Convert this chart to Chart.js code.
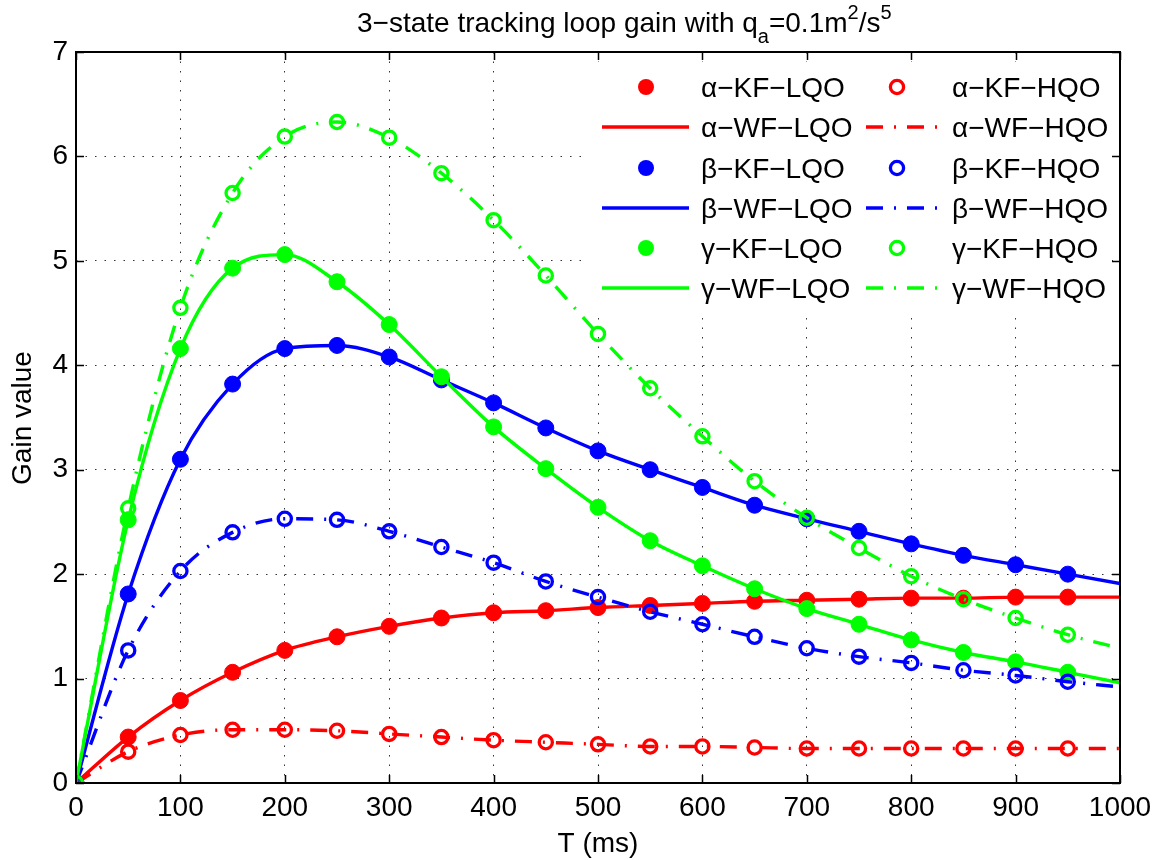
<!DOCTYPE html>
<html>
<head>
<meta charset="utf-8">
<title>Tracking loop gain</title>
<script src="https://cdn.jsdelivr.net/npm/chart.js@4.4.1/dist/chart.umd.min.js"></script>
<style>
  html, body { margin: 0; padding: 0; background: #fff; }
  #gainChart { display: block; }
</style>
</head>
<body>
<canvas id="gainChart" width="1157" height="860"></canvas>
<script>
// ---- data -------------------------------------------------------------

// KF gains are sampled every 50 ms, WF curves run to the end of the axis
const kfTimes = [0, 50, 100, 150, 200, 250, 300, 350, 400, 450, 500, 550, 600, 650, 700, 750, 800, 850, 900, 950];
const wfTimes = [0, 50, 100, 150, 200, 250, 300, 350, 400, 450, 500, 550, 600, 650, 700, 750, 800, 850, 900, 950, 1000];

const xTicks = [0, 100, 200, 300, 400, 500, 600, 700, 800, 900, 1000];
const yTicks = [0, 1, 2, 3, 4, 5, 6, 7];

// alpha
const alphaKfLqo = [0, 0.44, 0.79, 1.06, 1.27, 1.40, 1.50, 1.58, 1.63, 1.65, 1.68, 1.70, 1.72, 1.74, 1.75, 1.76, 1.77, 1.77, 1.78, 1.78];
const alphaWfLqo = [0, 0.44, 0.79, 1.06, 1.27, 1.40, 1.50, 1.58, 1.63, 1.65, 1.68, 1.70, 1.72, 1.74, 1.75, 1.76, 1.77, 1.77, 1.78, 1.78, 1.78];
const alphaKfHqo = [0, 0.30, 0.46, 0.51, 0.51, 0.50, 0.47, 0.44, 0.41, 0.39, 0.37, 0.35, 0.35, 0.34, 0.33, 0.33, 0.33, 0.33, 0.33, 0.33];
const alphaWfHqo = [0, 0.30, 0.46, 0.51, 0.51, 0.50, 0.47, 0.44, 0.41, 0.39, 0.37, 0.35, 0.35, 0.34, 0.33, 0.33, 0.33, 0.33, 0.33, 0.33, 0.33];

// beta
const betaKfLqo = [0, 1.81, 3.10, 3.82, 4.16, 4.19, 4.08, 3.86, 3.64, 3.40, 3.18, 3.00, 2.83, 2.66, 2.53, 2.41, 2.29, 2.18, 2.09, 2.00];
const betaWfLqo = [0, 1.81, 3.10, 3.82, 4.16, 4.19, 4.08, 3.86, 3.64, 3.40, 3.18, 3.00, 2.83, 2.66, 2.53, 2.41, 2.29, 2.18, 2.09, 2.00, 1.91];
const betaKfHqo = [0, 1.27, 2.03, 2.40, 2.53, 2.52, 2.41, 2.26, 2.11, 1.93, 1.78, 1.64, 1.52, 1.40, 1.29, 1.21, 1.15, 1.08, 1.03, 0.97];
const betaWfHqo = [0, 1.27, 2.03, 2.40, 2.53, 2.52, 2.41, 2.26, 2.11, 1.93, 1.78, 1.64, 1.52, 1.40, 1.29, 1.21, 1.15, 1.08, 1.03, 0.97, 0.92];

// gamma
const gammaKfLqo = [0, 2.52, 4.16, 4.93, 5.06, 4.80, 4.39, 3.89, 3.41, 3.01, 2.64, 2.32, 2.08, 1.86, 1.67, 1.52, 1.37, 1.25, 1.16, 1.06];
const gammaWfLqo = [0, 2.52, 4.16, 4.93, 5.06, 4.80, 4.39, 3.89, 3.41, 3.01, 2.64, 2.32, 2.08, 1.86, 1.67, 1.52, 1.37, 1.25, 1.16, 1.06, 0.96];
const gammaKfHqo = [0, 2.63, 4.55, 5.65, 6.19, 6.33, 6.18, 5.84, 5.39, 4.86, 4.30, 3.78, 3.32, 2.89, 2.54, 2.25, 1.98, 1.76, 1.58, 1.42];
const gammaWfHqo = [0, 2.63, 4.55, 5.65, 6.19, 6.33, 6.18, 5.84, 5.39, 4.86, 4.30, 3.78, 3.32, 2.89, 2.54, 2.25, 1.98, 1.76, 1.58, 1.42, 1.29];

// ---- styling ----------------------------------------------------------

const RED = '#ff0000';
const BLUE = '#0000ff';
const GREEN = '#00ff00';
const FONT_FAMILY = "'Liberation Sans', Arial, Helvetica, sans-serif";
const FONT_SIZE = 28;
const DASH_DOT = [17, 11, 2, 11];
const LINE_WIDTH = 3.4;

const pts = (xs, ys) => ys.map((y, i) => ({x: xs[i], y: y}));

function kfDots(label, ys, color, hollow, order) {
    return {
        label: label,
        data: pts(kfTimes, ys),
        order: order,
        showLine: false,
        hollow: hollow,
        pointStyle: 'circle',
        pointRadius: hollow ? 6.6 : 8,
        pointBorderWidth: hollow ? 3.3 : 1,
        pointBorderColor: color,
        pointBackgroundColor: hollow ? 'rgba(0,0,0,0)' : color,
        borderColor: color,
        backgroundColor: color
    };
}

function wfCurve(label, ys, color, dashed, order) {
    return {
        label: label,
        data: pts(wfTimes, ys),
        order: order,
        dashed: dashed,
        borderColor: color,
        backgroundColor: color,
        borderWidth: LINE_WIDTH,
        borderDash: dashed ? DASH_DOT : [],
        borderCapStyle: 'butt',
        cubicInterpolationMode: 'monotone',
        pointRadius: 0,
        fill: false
    };
}

const M = '\u2212';

// higher order is painted first, so HQO sits over LQO and gamma over beta over alpha
const datasets = [
    wfCurve('\u03b1' + M + 'WF' + M + 'LQO', alphaWfLqo, RED, false, 12),
    kfDots('\u03b1' + M + 'KF' + M + 'LQO', alphaKfLqo, RED, false, 11),
    wfCurve('\u03b2' + M + 'WF' + M + 'LQO', betaWfLqo, BLUE, false, 10),
    kfDots('\u03b2' + M + 'KF' + M + 'LQO', betaKfLqo, BLUE, false, 9),
    wfCurve('\u03b3' + M + 'WF' + M + 'LQO', gammaWfLqo, GREEN, false, 8),
    kfDots('\u03b3' + M + 'KF' + M + 'LQO', gammaKfLqo, GREEN, false, 7),
    wfCurve('\u03b1' + M + 'WF' + M + 'HQO', alphaWfHqo, RED, true, 6),
    kfDots('\u03b1' + M + 'KF' + M + 'HQO', alphaKfHqo, RED, true, 5),
    wfCurve('\u03b2' + M + 'WF' + M + 'HQO', betaWfHqo, BLUE, true, 4),
    kfDots('\u03b2' + M + 'KF' + M + 'HQO', betaKfHqo, BLUE, true, 3),
    wfCurve('\u03b3' + M + 'WF' + M + 'HQO', gammaWfHqo, GREEN, true, 2),
    kfDots('\u03b3' + M + 'KF' + M + 'HQO', gammaKfHqo, GREEN, true, 1)
];

// two legend columns: LQO on the left, HQO on the right
const legendColumns = [
    ['\u03b1' + M + 'KF' + M + 'LQO', '\u03b1' + M + 'WF' + M + 'LQO',
     '\u03b2' + M + 'KF' + M + 'LQO', '\u03b2' + M + 'WF' + M + 'LQO',
     '\u03b3' + M + 'KF' + M + 'LQO', '\u03b3' + M + 'WF' + M + 'LQO'],
    ['\u03b1' + M + 'KF' + M + 'HQO', '\u03b1' + M + 'WF' + M + 'HQO',
     '\u03b2' + M + 'KF' + M + 'HQO', '\u03b2' + M + 'WF' + M + 'HQO',
     '\u03b3' + M + 'KF' + M + 'HQO', '\u03b3' + M + 'WF' + M + 'HQO']
];

const titleParts = [
    {text: '3' + M + 'state tracking loop gain with q', size: FONT_SIZE, shift: 0},
    {text: 'a', size: 20, shift: 11},
    {text: '=0.1m', size: FONT_SIZE, shift: 0},
    {text: '2', size: 20, shift: -13},
    {text: '/s', size: FONT_SIZE, shift: 0},
    {text: '5', size: 20, shift: -13}
];

function font(size) {
    return size + 'px ' + FONT_FAMILY;
}

// ---- custom drawing: box, inward ticks, titles, legend ----------------

const matlabFrame = {
    id: 'matlabFrame',

    beforeDatasetsDraw(chart) {
        // legend background hides the grid behind it
        const ctx = chart.ctx;
        ctx.save();
        ctx.fillStyle = '#fff';
        ctx.fillRect(585, 62, 527, 252);
        ctx.restore();
    },

    afterDraw(chart) {
        const ctx = chart.ctx;
        const area = chart.chartArea;
        const xs = chart.scales.x;
        const ys = chart.scales.y;
        const tickLen = 8;

        ctx.save();
        ctx.strokeStyle = '#000';
        ctx.lineWidth = 1.5;

        // inward tick marks on all four sides
        ctx.beginPath();
        xTicks.forEach(v => {
            const px = Math.round(xs.getPixelForValue(v)) + 0.5;
            ctx.moveTo(px, area.bottom);
            ctx.lineTo(px, area.bottom - tickLen);
            ctx.moveTo(px, area.top);
            ctx.lineTo(px, area.top + tickLen);
        });
        yTicks.forEach(v => {
            const py = Math.round(ys.getPixelForValue(v)) + 0.5;
            ctx.moveTo(area.left, py);
            ctx.lineTo(area.left + tickLen, py);
            ctx.moveTo(area.right, py);
            ctx.lineTo(area.right - tickLen, py);
        });
        ctx.stroke();

        ctx.lineWidth = 2;
        ctx.strokeRect(area.left, area.top, area.right - area.left, area.bottom - area.top);

        // title with sub/superscripts, laid out piece by piece
        ctx.fillStyle = '#000';
        ctx.textBaseline = 'alphabetic';
        ctx.textAlign = 'left';
        titleParts.forEach(p => {
            ctx.font = font(p.size);
            p.width = ctx.measureText(p.text).width;
        });
        let tx = 357;
        const titleBase = 32;
        titleParts.forEach(p => {
            ctx.font = font(p.size);
            ctx.fillText(p.text, tx, titleBase + p.shift);
            tx += p.width;
        });

        // axis titles
        ctx.font = font(FONT_SIZE);
        ctx.textAlign = 'center';
        ctx.fillText('T (ms)', (area.left + area.right) / 2, 852);

        ctx.save();
        ctx.translate(23, 418);
        ctx.rotate(-Math.PI / 2);
        ctx.textBaseline = 'middle';
        ctx.fillText('Gain value', 0, 0);
        ctx.restore();

        // legend
        const rows = [87, 127, 168, 208, 248, 288];
        const cols = [
            {lineFrom: 602, lineTo: 689, marker: 646, text: 701},
            {lineFrom: 866, lineTo: 937, marker: 897, text: 952}
        ];
        legendColumns.forEach((labels, c) => {
            const col = cols[c];
            labels.forEach((label, r) => {
                const ds = chart.data.datasets.find(d => d.label === label);
                const y = rows[r];
                if (ds.showLine === false) {
                    ctx.beginPath();
                    ctx.arc(col.marker, y, ds.pointRadius, 0, Math.PI * 2);
                    if (ds.hollow) {
                        ctx.lineWidth = ds.pointBorderWidth;
                        ctx.strokeStyle = ds.pointBorderColor;
                        ctx.stroke();
                    } else {
                        ctx.fillStyle = ds.pointBackgroundColor;
                        ctx.fill();
                    }
                } else {
                    ctx.beginPath();
                    ctx.lineWidth = ds.borderWidth;
                    ctx.strokeStyle = ds.borderColor;
                    ctx.setLineDash(ds.borderDash);
                    ctx.moveTo(col.lineFrom, y);
                    ctx.lineTo(col.lineTo, y);
                    ctx.stroke();
                    ctx.setLineDash([]);
                }
                ctx.fillStyle = '#000';
                ctx.font = font(FONT_SIZE);
                ctx.textAlign = 'left';
                ctx.textBaseline = 'alphabetic';
                ctx.fillText(label, col.text, y + 10);
            });
        });

        ctx.restore();
    }
};

// ---- chart ------------------------------------------------------------

const tickFont = {family: FONT_FAMILY, size: FONT_SIZE};

new Chart(document.getElementById('gainChart'), {
    type: 'line',
    data: {datasets: datasets},
    options: {
        responsive: false,
        animation: false,
        devicePixelRatio: 1,
        events: [],
        layout: {padding: {left: 0, right: 37, top: 52, bottom: 0}},
        plugins: {
            legend: {display: false},
            title: {display: false},
            tooltip: {enabled: false}
        },
        scales: {
            x: {
                type: 'linear',
                min: 0,
                max: 1000,
                afterBuildTicks: s => { s.ticks = xTicks.map(v => ({value: v})); },
                afterFit: s => {
                    s.height = 77;
                    s.paddingLeft = 0;
                    s.paddingRight = 0;
                },
                ticks: {
                    font: tickFont, color: '#000', padding: 8, maxRotation: 0, autoSkip: false,
                    callback: v => String(v)
                },
                grid: {color: 'rgba(0,0,0,0.8)', lineWidth: 1, drawTicks: false},
                border: {display: false, dash: [1.5, 8]}
            },
            y: {
                type: 'linear',
                min: 0,
                max: 7,
                afterBuildTicks: s => { s.ticks = yTicks.map(v => ({value: v})); },
                afterFit: s => {
                    s.width = 76;
                    s.paddingTop = 0;
                    s.paddingBottom = 0;
                },
                ticks: {font: tickFont, color: '#000', padding: 8, autoSkip: false, callback: v => String(v)},
                grid: {color: 'rgba(0,0,0,0.8)', lineWidth: 1, drawTicks: false},
                border: {display: false, dash: [1.5, 8]}
            }
        }
    },
    plugins: [matlabFrame]
});
</script>
</body>
</html>
